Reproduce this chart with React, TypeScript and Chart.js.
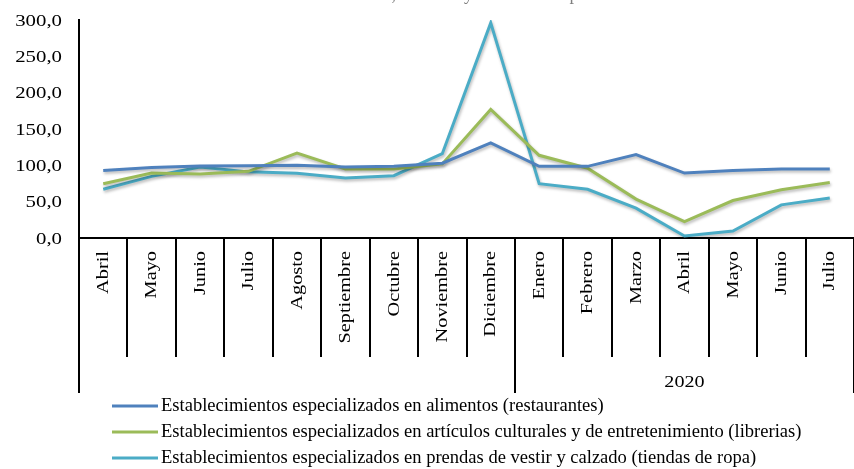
import React, { useEffect, useRef } from 'react';
import { Chart, registerables } from 'chart.js';

Chart.register(...registerables);

const months = [
  'Abril', 'Mayo', 'Junio', 'Julio', 'Agosto', 'Septiembre', 'Octubre', 'Noviembre',
  'Diciembre', 'Enero', 'Febrero', 'Marzo', 'Abril', 'Mayo', 'Junio', 'Julio',
];
const yearLabels = ['', '2020'];
const yearSpans = [9, 7];

const seriesNames = [
  'Establecimientos especializados en alimentos (restaurantes)',
  'Establecimientos especializados en artículos culturales y de entretenimiento (librerias)',
  'Establecimientos especializados en prendas de vestir y calzado (tiendas de ropa)',
];
const seriesColors = ['#4F81BD', '#9BBB59', '#4BACC6'];

const restaurantes = [93, 97, 99, 99.5, 100, 97.7, 98.6, 103, 131, 98.6, 98.6, 114.8, 89.4, 93, 95, 95];
const librerias = [74.7, 89.4, 88, 91.7, 117, 95, 95, 102, 177, 113.8, 96, 53.5, 22.5, 51.6, 66.4, 76.5];
const ropa = [67, 84.8, 97.7, 91, 89, 82.5, 85.7, 116, 296, 74.7, 67, 41, 2.8, 9.7, 45.6, 54.9];

const yMin = 0;
const yMax = 300;
const yStep = 50;

const titleText = 'Restaurantes, librerías y tiendas de ropa';

const SERIF = '"Liberation Serif", "Times New Roman", serif';

function stretchedText(
  ctx: CanvasRenderingContext2D,
  text: string,
  x: number,
  y: number,
  sx: number,
  align: CanvasTextAlign,
  rotate = 0,
) {
  ctx.save();
  ctx.translate(x, y);
  if (rotate) ctx.rotate(rotate);
  ctx.scale(sx, 1);
  ctx.textAlign = align;
  ctx.fillText(text, 0, 0);
  ctx.restore();
}

const shadowPlugin = {
  id: 'lineShadow',
  beforeDatasetsDraw(chart: any) {
    const ctx = chart.ctx;
    ctx.save();
    ctx.shadowColor = 'rgba(0,0,0,0.28)';
    ctx.shadowBlur = 3;
    ctx.shadowOffsetX = 1;
    ctx.shadowOffsetY = 2;
  },
  afterDatasetsDraw(chart: any) {
    chart.ctx.restore();
  },
};

const decorPlugin = {
  id: 'decor',
  afterDraw(chart: any) {
    const ctx: CanvasRenderingContext2D = chart.ctx;
    const area = chart.chartArea;
    const xs = chart.scales.x;
    const ys = chart.scales.y;
    const n = months.length;
    const step = (area.right - area.left) / n;

    ctx.save();

    // title (cut off at the top of the picture)
    ctx.fillStyle = '#7f7f7f';
    ctx.font = `18px ${SERIF}`;
    ctx.textBaseline = 'alphabetic';
    stretchedText(ctx, titleText, 443, 0, 1.0, 'center');

    // y tick labels
    ctx.fillStyle = '#000';
    ctx.font = `16px ${SERIF}`;
    ctx.textBaseline = 'middle';
    for (const t of ys.ticks) {
      const y = ys.getPixelForValue(t.value);
      const label = Number(t.value).toFixed(1).replace('.', ',');
      stretchedText(ctx, label, 62, y + 1.5, 1.3, 'right');
    }

    // category separators
    const boundaries: number[] = [0];
    let acc = 0;
    for (const s of yearSpans) {
      acc += s;
      boundaries.push(acc);
    }
    ctx.strokeStyle = '#000';
    ctx.lineWidth = 2;
    const shortBottom = area.bottom + 119;
    const longBottom = area.bottom + 155;
    for (let i = 0; i <= n; i++) {
      const x = Math.round(area.left + i * step);
      const long = boundaries.includes(i);
      ctx.beginPath();
      ctx.moveTo(x, area.bottom);
      ctx.lineTo(x, long ? longBottom : shortBottom);
      ctx.stroke();
    }

    // month labels (rotated)
    ctx.fillStyle = '#000';
    ctx.font = `16px ${SERIF}`;
    ctx.textBaseline = 'middle';
    months.forEach((m, i) => {
      const x = xs.getPixelForValue(i);
      stretchedText(ctx, m, x + 0.5, area.bottom + 13, 1.27, 'right', -Math.PI / 2);
    });

    // year group labels
    ctx.font = `16.5px ${SERIF}`;
    let start = 0;
    yearLabels.forEach((lbl, gi) => {
      const span = yearSpans[gi];
      if (lbl) {
        const x0 = area.left + start * step;
        const x1 = area.left + (start + span) * step;
        stretchedText(ctx, lbl, (x0 + x1) / 2, area.bottom + 145, 1.22, 'center');
      }
      start += span;
    });

    // legend
    ctx.font = `18px ${SERIF}`;
    ctx.textBaseline = 'middle';
    chart.data.datasets.forEach((ds: any, i: number) => {
      const y = 406 + i * 26;
      ctx.strokeStyle = ds.borderColor;
      ctx.lineWidth = 3;
      ctx.beginPath();
      ctx.moveTo(112, y);
      ctx.lineTo(158, y);
      ctx.stroke();
      ctx.fillStyle = '#000';
      stretchedText(ctx, ds.label, 161, y, 1.03, 'left');
    });

    ctx.restore();
  },
};

export default function App() {
  const canvasRef = useRef<HTMLCanvasElement | null>(null);

  useEffect(() => {
    if (!canvasRef.current) return;
    const seriesData = [restaurantes, librerias, ropa];
    const chart = new Chart(canvasRef.current, {
      type: 'line',
      data: {
        labels: months,
        datasets: seriesData.map((d, i) => ({
          label: seriesNames[i],
          data: d,
          borderColor: seriesColors[i],
          backgroundColor: seriesColors[i],
          borderWidth: 3,
          pointRadius: 0,
          pointHoverRadius: 0,
          tension: 0,
          fill: false,
        })),
      },
      options: {
        animation: false,
        responsive: true,
        maintainAspectRatio: false,
        layout: { padding: { top: 20, left: 0, right: 0, bottom: 0 } },
        plugins: {
          legend: { display: false },
          title: { display: false },
          tooltip: { enabled: false },
        },
        scales: {
          x: {
            type: 'category',
            offset: true,
            grid: { display: false },
            ticks: { display: false },
            border: { display: true, color: '#000', width: 2 },
            afterFit: (s: any) => {
              s.height = 469 - 238;
            },
          },
          y: {
            min: yMin,
            max: yMax,
            ticks: { display: false, stepSize: yStep },
            grid: { display: false },
            border: { display: true, color: '#000', width: 2 },
            afterFit: (s: any) => {
              s.width = 79;
            },
          },
        },
      },
      plugins: [shadowPlugin, decorPlugin],
    });
    return () => chart.destroy();
  }, []);

  return (
    <div style={{ position: 'fixed', left: 0, top: 0, width: 854, height: 469, background: '#fff' }}>
      <canvas ref={canvasRef} />
    </div>
  );
}
